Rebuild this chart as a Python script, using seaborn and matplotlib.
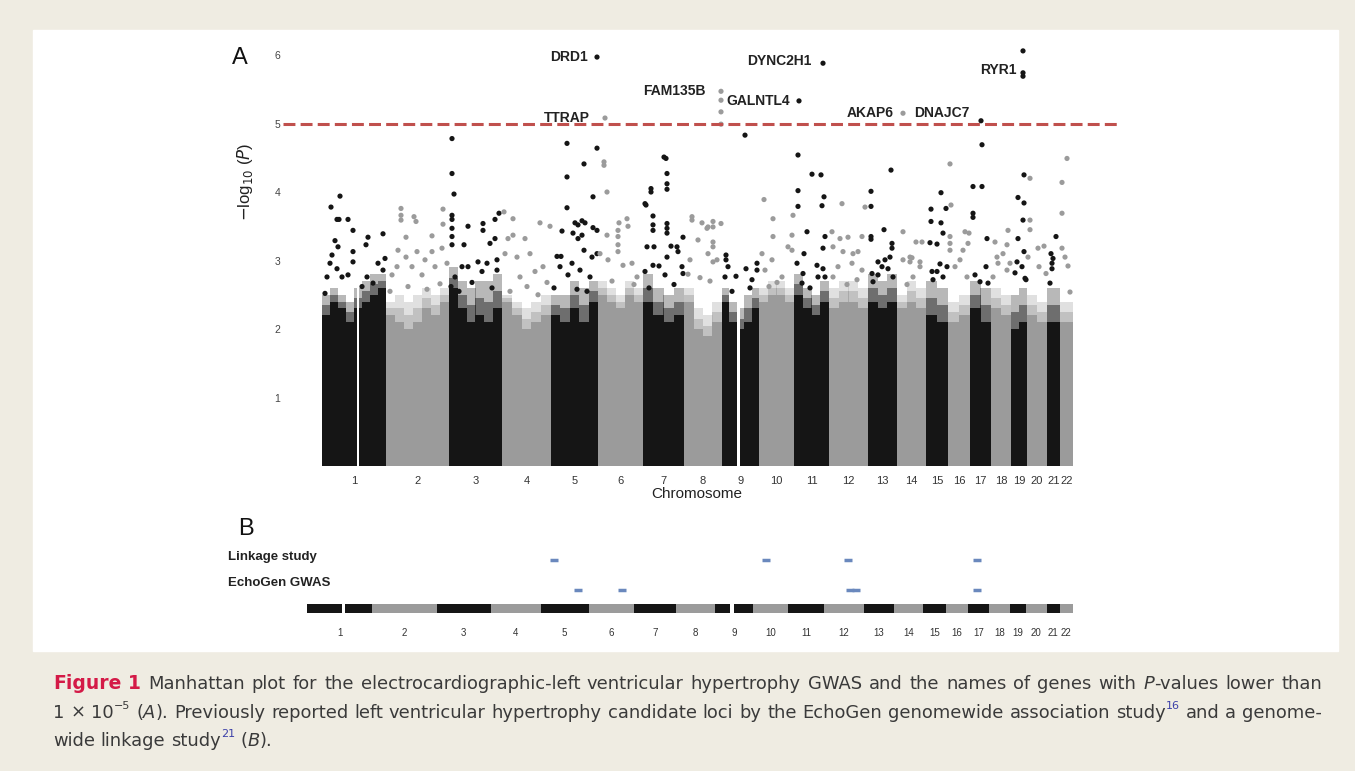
import re
import numpy as np
import pandas as pd
import seaborn as sns
import matplotlib.pyplot as plt
from matplotlib import font_manager
from matplotlib.patches import Rectangle
from matplotlib.transforms import IdentityTransform

W, H = 1355, 771

# chromosomes and the share of the genome axis each one takes
chrom_names = [str(i) for i in range(1, 23)]
chrom_len = [64, 63, 53, 49, 47, 45, 41, 38, 37, 35, 35, 39, 29, 29, 22, 22, 21, 20, 16, 20, 13, 13]

# top of the solid cloud of SNPs, left to right along each chromosome
cloud_top = [
    [2.2, 2.4, 2.3, 2.1, 2.3, 2.4, 2.5, 2.6],
    [2.2, 2.1, 2.0, 2.1, 2.3, 2.2, 2.4],
    [2.6, 2.3, 2.1, 2.2, 2.1, 2.3],
    [2.4, 2.2, 2.0, 2.1, 2.2],
    [2.2, 2.1, 2.3, 2.1, 2.4],
    [2.5, 2.4, 2.3, 2.5, 2.4],
    [2.4, 2.2, 2.1, 2.2],
    [2.4, 2.0, 1.9, 2.1],
    [2.4, 2.1, 2.0, 2.1, 2.3],
    [2.4, 2.5, 2.5, 2.4],
    [2.5, 2.3, 2.2, 2.4],
    [2.3, 2.4, 2.4, 2.3],
    [2.4, 2.3, 2.4],
    [2.3, 2.4, 2.3],
    [2.2, 2.1],
    [2.1, 2.2],
    [2.3, 2.1],
    [2.3, 2.2],
    [2.0, 2.1],
    [2.2, 2.1],
    [2.1],
    [2.1],
]

# top of the thinner, speckled part of the cloud
speckle_top = [
    [2.5, 2.6, 2.5, 2.4, 2.6, 2.7, 2.8, 2.8],
    [2.4, 2.5, 2.4, 2.5, 2.6, 2.5, 2.6],
    [2.9, 2.7, 2.6, 2.7, 2.7, 2.8],
    [2.5, 2.4, 2.3, 2.4, 2.5],
    [2.5, 2.5, 2.7, 2.6, 2.7],
    [2.7, 2.6, 2.5, 2.7, 2.6],
    [2.8, 2.6, 2.5, 2.6],
    [2.6, 2.3, 2.2, 2.4],
    [2.6, 2.4, 2.3, 2.5, 2.6],
    [2.6, 2.7, 2.7, 2.6],
    [2.8, 2.6, 2.5, 2.7],
    [2.6, 2.7, 2.7, 2.6],
    [2.8, 2.7, 2.8],
    [2.5, 2.7, 2.6],
    [2.7, 2.6],
    [2.4, 2.5],
    [2.7, 2.6],
    [2.6, 2.5],
    [2.5, 2.6],
    [2.5, 2.4],
    [2.6],
    [2.4],
]

# centromere gaps: chromosome and fraction along it
gap_chrom = [1, 9]
gap_frac = [0.56, 0.45]

# SNPs standing above the cloud: (genome position, -log10 P)
upper_snps = [
    # chr 1
    (18, 3.94), (9, 3.78), (15, 3.60), (17, 3.60), (26, 3.60), (31, 3.44), (13, 3.29), (16, 3.20),
    (46, 3.34), (44, 3.23), (61, 3.39), (31, 3.13), (10, 3.08), (8, 2.96), (31, 2.98), (15, 2.88),
    (56, 2.96), (5, 2.76), (20, 2.76), (26, 2.79), (45, 2.76), (63, 3.03), (3, 2.52), (40, 2.62),
    (51, 2.67), (61, 2.86),
    # chr 2
    (79, 3.76), (79, 3.66), (79, 3.59), (92, 3.64), (94, 3.57), (121, 3.75), (121, 3.53), (110, 3.36),
    (84, 3.34), (76, 3.15), (84, 3.05), (95, 3.13), (110, 3.13), (103, 3.01), (120, 3.18), (75, 2.91),
    (90, 2.91), (113, 2.91), (70, 2.79), (100, 2.79), (125, 2.96), (68, 2.55), (86, 2.62), (105, 2.58),
    (118, 2.66),
    # chr 3
    (130, 4.78), (130, 4.27), (132, 3.97), (130, 3.66), (130, 3.60), (130, 3.47), (130, 3.35), (130, 3.23),
    (146, 3.50), (161, 3.54), (161, 3.44), (173, 3.60), (177, 3.69), (142, 3.23), (168, 3.25), (173, 3.32),
    (140, 2.91), (146, 2.91), (156, 2.98), (165, 2.96), (175, 3.01), (160, 2.84), (133, 2.76), (175, 2.86),
    (129, 2.62), (137, 2.55), (150, 2.68), (170, 2.60),
    # chr 4
    (182, 3.71), (186, 3.32), (183, 3.10), (191, 3.61), (191, 3.37), (203, 3.32), (218, 3.55), (228, 3.50),
    (195, 3.05), (208, 3.10), (221, 2.91), (213, 2.84), (198, 2.76), (188, 2.55), (205, 2.62), (216, 2.50),
    (225, 2.68),
    # chr 5
    (245, 4.71), (275, 4.64), (262, 4.41), (245, 4.22), (271, 3.93), (245, 3.77), (240, 3.43), (253, 3.55),
    (256, 3.52), (260, 3.58), (263, 3.55), (251, 3.40), (256, 3.32), (260, 3.37), (271, 3.48), (275, 3.44),
    (235, 3.06), (239, 3.06), (262, 3.15), (270, 3.05), (275, 3.10), (250, 2.96), (258, 2.86), (238, 2.91),
    (246, 2.79), (268, 2.76), (232, 2.60), (255, 2.58), (265, 2.55),
    # chr 6
    (282, 4.44), (282, 4.39), (285, 4.00), (297, 3.55), (305, 3.61), (306, 3.50), (296, 3.44), (296, 3.35),
    (296, 3.23), (296, 3.13), (285, 3.37), (286, 3.01), (301, 2.93), (310, 2.96), (278, 3.10), (315, 2.76),
    (290, 2.70), (312, 2.65),
    # chr 7
    (342, 4.51), (344, 4.49), (345, 4.27), (345, 4.12), (345, 4.04), (329, 4.05), (329, 4.00), (323, 3.83),
    (324, 3.81), (331, 3.65), (331, 3.52), (331, 3.44), (345, 3.54), (345, 3.47), (345, 3.40), (361, 3.34),
    (325, 3.20), (332, 3.20), (349, 3.21), (355, 3.20), (356, 3.13), (331, 2.93), (337, 2.92), (345, 3.05),
    (360, 2.91), (323, 2.84), (343, 2.79), (361, 2.81), (327, 2.60), (352, 2.65),
    # chr 8
    (370, 3.64), (370, 3.59), (385, 3.47), (386, 3.10), (368, 3.01), (386, 3.49), (391, 3.49), (391, 3.57),
    (399, 3.54), (391, 3.27), (391, 3.20), (395, 3.01), (391, 2.98), (380, 3.55), (376, 3.30), (366, 2.80),
    (378, 2.75), (388, 2.70), (399, 5.34), (399, 5.17), (399, 4.99),
    # chr 9
    (423, 4.83), (404, 3.08), (404, 3.01), (414, 2.77), (406, 2.91), (424, 2.88), (435, 2.96), (435, 2.86),
    (430, 2.72), (403, 2.76), (428, 2.60), (410, 2.55),
    # chr 10
    (442, 3.89), (451, 3.61), (451, 3.35), (440, 3.10), (450, 3.01), (471, 3.66), (470, 3.37), (466, 3.20),
    (470, 3.15), (443, 2.86), (460, 2.76), (455, 2.68), (447, 2.62),
    # chr 11
    (476, 4.54), (490, 4.26), (499, 4.25), (476, 4.02), (502, 3.93), (476, 3.79), (500, 3.80), (485, 3.42),
    (503, 3.35), (501, 3.18), (482, 3.10), (475, 2.96), (481, 2.81), (495, 2.93), (501, 2.88), (480, 2.67),
    (496, 2.76), (503, 2.76), (488, 2.60),
    # chr 12
    (520, 3.83), (510, 3.42), (518, 3.32), (526, 3.34), (540, 3.35), (543, 3.78), (511, 3.20), (521, 3.13),
    (531, 3.10), (536, 3.13), (516, 2.91), (530, 2.96), (540, 2.86), (511, 2.76), (535, 2.72), (525, 2.65),
    # chr 13
    (549, 4.01), (549, 3.79), (569, 4.32), (562, 3.45), (549, 3.35), (549, 3.31), (570, 3.25), (570, 3.18),
    (568, 3.05), (556, 2.98), (563, 3.01), (560, 2.91), (566, 2.88), (550, 2.81), (556, 2.79), (571, 2.76),
    (551, 2.69),
    # chr 14
    (581, 3.42), (588, 3.05), (588, 2.98), (598, 2.98), (598, 2.91), (600, 3.27), (581, 3.01), (591, 2.76),
    (590, 3.04), (594, 3.27), (585, 2.65),
    # chr 15
    (619, 3.99), (609, 3.75), (624, 3.76), (609, 3.57), (619, 3.55), (621, 3.40), (608, 3.26), (615, 3.24),
    (618, 2.95), (610, 2.84), (615, 2.84), (625, 2.91), (611, 2.72), (621, 2.76),
    # chr 16
    (628, 4.41), (629, 3.81), (628, 3.35), (628, 3.25), (628, 3.15), (643, 3.42), (647, 3.40), (641, 3.15),
    (646, 3.25), (633, 2.91), (638, 3.01), (645, 2.76),
    # chr 17
    (660, 4.69), (651, 4.08), (660, 4.08), (651, 3.69), (651, 3.63), (665, 3.32), (664, 2.91), (653, 2.79),
    (658, 2.69), (666, 2.67),
    # chr 18
    (673, 3.27), (685, 3.23), (686, 3.44), (681, 3.10), (675, 3.05), (676, 2.96), (685, 2.86), (688, 2.96),
    (671, 2.76),
    # chr 19
    (701, 6.06), (701, 5.69), (702, 4.25), (696, 3.92), (702, 3.84), (701, 3.59), (696, 3.32), (702, 3.13),
    (695, 2.98), (700, 2.91), (693, 2.82), (703, 2.74), (704, 2.72),
    # chr 20
    (708, 4.20), (708, 3.59), (708, 3.45), (706, 3.05), (716, 3.18), (722, 3.21), (717, 2.91), (724, 2.81),
    # chr 21
    (734, 3.35), (729, 3.10), (731, 3.03), (730, 2.96), (730, 2.88), (728, 2.67),
    # chr 22
    (745, 4.49), (740, 4.14), (740, 3.69), (740, 3.18), (746, 2.92), (743, 3.05), (748, 2.54),
]

# genes with P below 1e-5
gene_names = ['DRD1', 'TTRAP', 'FAM135B', 'GALNTL4', 'DYNC2H1', 'AKAP6', 'DNAJC7', 'RYR1']
gene_pos = [275, 283, 399, 477, 501, 581, 659, 701]
gene_logp = [5.97, 5.08, 5.47, 5.33, 5.88, 5.15, 5.04, 5.74]
label_dx = [-9, -15, -15, -9, -11, -9, -11, -6]
label_dy = [0, 0, 0, 0, 2, 0, 8, 3]

threshold = 5.0  # -log10(1e-5)

# panel B: previously reported loci (chromosome, fraction along it)
linkage_chrom = [5, 10, 12, 17]
linkage_frac = [0.27, 0.37, 0.61, 0.43]
echogen_chrom = [5, 6, 12, 12, 17]
echogen_frac = [0.77, 0.73, 0.65, 0.79, 0.43]

caption_lines = [
    "#Figure# #1# Manhattan plot for the electrocardiographic-left ventricular hypertrophy GWAS and the names of genes with *P*-values lower than",
    "1 × 10~−5~ (*A*). Previously reported left ventricular hypertrophy candidate loci by the EchoGen genomewide association study^16^ and a genome-",
    "wide linkage study^21^ (*B*).",
]

# ---------------------------------------------------------------------------
sns.set_theme(style='white')
plt.rcParams['font.family'] = ['Liberation Sans', 'DejaVu Sans']

BLACK, GREY = '#151515', '#9b9b9b'
shade_colors = {'odd': BLACK, 'even': GREY}

chrom_start = np.concatenate([[0], np.cumsum(chrom_len)[:-1]])
chrom_end = np.cumsum(chrom_len)
chrom_mid = chrom_start + np.array(chrom_len) / 2


def shade(ci):
    return 'odd' if ci % 2 == 0 else 'even'


snp_df = pd.DataFrame(upper_snps, columns=['pos', 'logp'])
snp_df['chrom'] = np.searchsorted(chrom_end, snp_df['pos'], side='right')
snp_df['shade'] = snp_df['chrom'].map(shade)

gene_df = pd.DataFrame({'gene': gene_names, 'pos': gene_pos, 'logp': gene_logp})
gene_df['chrom'] = np.searchsorted(chrom_end, gene_df['pos'], side='right')
gene_df['shade'] = gene_df['chrom'].map(shade)

fig = plt.figure(figsize=(W / 100, H / 100), dpi=100)
fig.patch.set_facecolor('#efece2')
fig.patches.append(Rectangle((33 / W, 1 - 651 / H), (1338 - 33) / W, (651 - 30) / H,
                             transform=fig.transFigure, color='white', zorder=-10))

# ---------------- panel A: Manhattan plot ----------------
ax_a = fig.add_axes([283 / W, 1 - 470 / H, 837 / W, 425 / H])
ax_a.set_facecolor('none')

for ci in range(len(chrom_len)):
    col = shade_colors[shade(ci)]
    solid = np.array(cloud_top[ci])
    thin = np.array(speckle_top[ci])
    mid = (solid + thin) / 2
    bw = chrom_len[ci] / len(solid)
    xs = chrom_start[ci] + bw * (np.arange(len(solid)) + 0.5)
    # the speckled fringe fades out above the solid part
    ax_a.bar(xs, thin - mid, bottom=mid, width=bw * 1.01, color=col, alpha=0.3,
             linewidth=0, zorder=1)
    ax_a.bar(xs, mid - solid, bottom=solid, width=bw * 1.01, color=col, alpha=0.62,
             linewidth=0, zorder=1)
    ax_a.bar(xs, solid, width=bw * 1.01, color=col, linewidth=0, zorder=1.2)

for c, f in zip(gap_chrom, gap_frac):
    gx = chrom_start[c - 1] + f * chrom_len[c - 1]
    ax_a.bar(gx, 3.0, width=2.4, color='white', linewidth=0, zorder=1.5)

sns.scatterplot(data=snp_df, x='pos', y='logp', hue='shade', palette=shade_colors,
                s=14, linewidth=0, legend=False, ax=ax_a, zorder=2)
sns.scatterplot(data=gene_df, x='pos', y='logp', hue='shade', palette=shade_colors,
                s=14, linewidth=0, legend=False, ax=ax_a, zorder=2)

ax_a.axhline(threshold, color='#c0504d', lw=2.2, ls=(0, (3.9, 1.7)), zorder=3)

for name, p, lp, dx, dy in zip(gene_names, gene_pos, gene_logp, label_dx, label_dy):
    ax_a.annotate(name, (p, lp), xytext=(dx, dy), textcoords='offset pixels',
                  ha='right', va='center', fontsize=10, fontweight='bold', color='#222222')

ax_a.set_xlim(-39, 798)
ax_a.set_ylim(-0.058, 6.146)
ax_a.set_xticks(chrom_mid)
ax_a.set_xticklabels(chrom_names)
ax_a.set_yticks([1, 2, 3, 4, 5, 6])
ax_a.tick_params(axis='y', length=0, pad=2, labelsize=7.5, labelcolor='#444444')
ax_a.tick_params(axis='x', length=0, pad=4, labelsize=8, labelcolor='#333333')
ax_a.set_xlabel('')
ax_a.set_ylabel('')
sns.despine(ax=ax_a, left=True, bottom=True)

fig.text(240 / W, 1 - 58 / H, 'A', fontsize=17, ha='center', va='center', color='#111111')
fig.text(245 / W, 1 - 182 / H, r'$-$log$_{10}$ ($P$)', rotation=90, fontsize=12,
         ha='center', va='center', color='#222222')
fig.text(697 / W, 1 - 494 / H, 'Chromosome', fontsize=11, ha='center', va='center', color='#222222')

# ---------------- panel B: candidate loci ----------------
ax_b = fig.add_axes([300 / W, 1 - 620 / H, 780 / W, 72 / H])
ax_b.set_facecolor('none')
row_linkage, row_echogen = 2.62, 1.0

for ci in range(len(chrom_len)):
    ax_b.barh(0, chrom_len[ci], left=chrom_start[ci], height=0.5,
              color=shade_colors[shade(ci)], linewidth=0)
for c, f in zip(gap_chrom, gap_frac):
    gx = chrom_start[c - 1] + f * chrom_len[c - 1]
    ax_b.barh(0, 3.0, left=gx - 1.5, height=0.6, color='white', linewidth=0)

loci_df = pd.DataFrame({
    'pos': [chrom_start[c - 1] + f * chrom_len[c - 1] for c, f in zip(linkage_chrom, linkage_frac)]
           + [chrom_start[c - 1] + f * chrom_len[c - 1] for c, f in zip(echogen_chrom, echogen_frac)],
    'row': [row_linkage] * len(linkage_chrom) + [row_echogen] * len(echogen_chrom),
})
sns.scatterplot(data=loci_df, x='pos', y='row', marker='_', s=30, linewidth=2.5,
                color='#6a88bd', legend=False, ax=ax_b)

ax_b.set_xlim(-6.86, 757.8)
ax_b.set_ylim(-0.62, 3.27)
ax_b.set_xticks(chrom_mid)
ax_b.set_xticklabels(chrom_names)
ax_b.set_yticks([])
ax_b.tick_params(axis='x', length=0, pad=6, labelsize=7, labelcolor='#333333')
ax_b.set_xlabel('')
ax_b.set_ylabel('')
sns.despine(ax=ax_b, left=True, bottom=True)

fig.text(246 / W, 1 - 529 / H, 'B', fontsize=17, ha='center', va='center', color='#111111')
fig.text(228 / W, 1 - 557 / H, 'Linkage study', fontsize=9.5, fontweight='bold',
         ha='left', va='center', color='#222222')
fig.text(228 / W, 1 - 583 / H, 'EchoGen GWAS', fontsize=9.5, fontweight='bold',
         ha='left', va='center', color='#222222')

# ---------------- caption ----------------
try:
    font_manager.findfont('Liberation Sans Narrow', fallback_to_default=False)
    cap_family, cap_size = ['Liberation Sans Narrow', 'DejaVu Sans'], 15
except ValueError:
    cap_family, cap_size = ['DejaVu Sans'], 12.9

renderer = fig.canvas.get_renderer()
px = 100 / 72


def draw_caption_line(line, x0, x1, base, justify):
    words = line.split(' ')
    word_parts = []
    for w in words:
        parts = []
        for seg in re.split(r'(\*[^*]+\*|\^[^^]+\^|~[^~]+~|#[^#]+#)', w):
            if not seg:
                continue
            kw = dict(fontsize=cap_size, color='#3a3a3a', family=cap_family)
            rise = 0
            if seg[0] == '*':
                kw['style'] = 'italic'
                seg = seg[1:-1]
            elif seg[0] == '#':
                kw.update(weight='bold', color='#d41a47', fontsize=cap_size * 1.05)
                seg = seg[1:-1]
            elif seg[0] in '^~':
                kw['fontsize'] = cap_size * 0.62
                rise = cap_size * 0.5 * px
                if seg[0] == '^':
                    kw['color'] = '#3b3fa8'
                seg = seg[1:-1]
            t = fig.text(0, 0, seg, transform=IdentityTransform(), ha='left', va='baseline', **kw)
            parts.append((t, t.get_window_extent(renderer).width, rise))
        word_parts.append(parts)
    word_w = [sum(p[1] for p in parts) for parts in word_parts]
    probe = fig.text(0, 0, 'a a', fontsize=cap_size, family=cap_family, transform=IdentityTransform())
    probe2 = fig.text(0, 0, 'aa', fontsize=cap_size, family=cap_family, transform=IdentityTransform())
    space = probe.get_window_extent(renderer).width - probe2.get_window_extent(renderer).width
    probe.remove()
    probe2.remove()
    if justify and len(words) > 1:
        gap = (x1 - x0 - sum(word_w)) / (len(words) - 1)
    else:
        gap = space
    x = x0
    for parts, ww in zip(word_parts, word_w):
        for t, w, rise in parts:
            t.set_position((x, base + rise))
            x += w
        x += gap


cap_y = [689, 718, 746]
for i, line in enumerate(caption_lines):
    draw_caption_line(line, 53, 1322, H - cap_y[i], justify=(i < len(caption_lines) - 1))

fig.savefig('out.png', dpi=100, facecolor=fig.get_facecolor())
